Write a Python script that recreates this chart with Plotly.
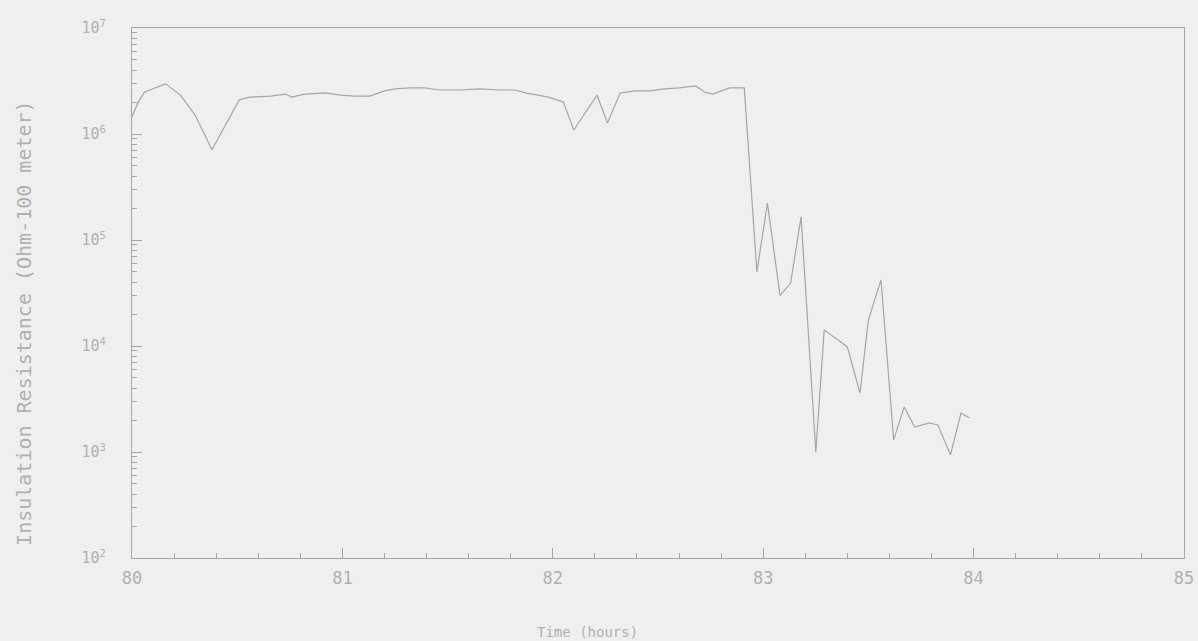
import plotly.graph_objects as go

# Elapsed time (hours) and insulation resistance (Ohm-100 meter)
time_hours = [
    80.00, 80.03, 80.06, 80.10, 80.16, 80.23, 80.30, 80.38, 80.46, 80.51,
    80.56, 80.66, 80.73, 80.76, 80.82, 80.92, 80.99, 81.06, 81.13, 81.20,
    81.25, 81.32, 81.39, 81.46, 81.56, 81.65, 81.75, 81.82, 81.87, 81.92,
    81.98, 82.05, 82.10, 82.21, 82.26, 82.32, 82.39, 82.46, 82.53, 82.60,
    82.68, 82.72, 82.76, 82.84, 82.91, 82.97, 83.02, 83.08, 83.13, 83.18,
    83.25, 83.29, 83.40, 83.46, 83.50, 83.56, 83.62, 83.67, 83.72, 83.79,
    83.83, 83.89, 83.94, 83.98,
]
resistance = [
    1.45e6, 2.0e6, 2.49e6, 2.66e6, 2.97e6, 2.33e6, 1.51e6, 7.1e5, 1.41e6, 2.1e6,
    2.23e6, 2.28e6, 2.38e6, 2.23e6, 2.38e6, 2.44e6, 2.33e6, 2.28e6, 2.28e6, 2.55e6,
    2.66e6, 2.72e6, 2.72e6, 2.6e6, 2.6e6, 2.66e6, 2.6e6, 2.6e6, 2.44e6, 2.33e6,
    2.23e6, 2.0e6, 1.09e6, 2.33e6, 1.27e6, 2.44e6, 2.55e6, 2.55e6, 2.66e6, 2.72e6,
    2.84e6, 2.49e6, 2.38e6, 2.72e6, 2.72e6, 5.0e4, 2.23e5, 3.0e4, 3.9e4, 1.65e5,
    1.0e3, 1.42e4, 9.8e3, 3.6e3, 1.76e4, 4.2e4, 1.3e3, 2.66e3, 1.72e3, 1.88e3,
    1.8e3, 9.4e2, 2.33e3, 2.09e3,
]

x_ticks = [80, 81, 82, 83, 84, 85]
y_ticks = [1e2, 1e3, 1e4, 1e5, 1e6, 1e7]
y_tick_text = ["10<sup>2</sup>", "10<sup>3</sup>", "10<sup>4</sup>",
               "10<sup>5</sup>", "10<sup>6</sup>", "10<sup>7</sup>"]

bg = "#efefef"
ink = "#a6a6a6"
text_col = "#b0b0b0"
mono = "DejaVu Sans Mono, Liberation Mono, monospace"

fig = go.Figure()
fig.add_trace(go.Scatter(
    x=time_hours, y=resistance, mode="lines",
    line=dict(color=ink, width=1.2), showlegend=False,
))

fig.update_layout(
    width=1198, height=641,
    margin=dict(l=132, r=14, t=28, b=83),
    paper_bgcolor=bg, plot_bgcolor=bg,
    font=dict(family=mono, color=text_col, size=14),
    xaxis=dict(
        range=[80, 85], tickvals=x_ticks, ticktext=[str(v) for v in x_ticks],
        ticks="inside", ticklen=10, tickcolor=ink, showgrid=False, zeroline=False,
        showline=True, linecolor=ink, linewidth=1.2, mirror=True,
        minor=dict(ticks="inside", dtick=0.2, ticklen=5, tickcolor=ink),
        tickfont=dict(family=mono, size=17, color=text_col),
        ticklabelstandoff=4, ticklabeloverflow="allow", automargin=False,
    ),
    yaxis=dict(
        type="log", range=[2, 7], tickvals=y_ticks, ticktext=y_tick_text,
        ticks="inside", ticklen=10, tickcolor=ink, showgrid=False, zeroline=False,
        showline=True, linecolor=ink, linewidth=1.2, mirror=True,
        minor=dict(ticks="inside", dtick="D1", ticklen=5, tickcolor=ink),
        tickfont=dict(family=mono, size=15, color=text_col),
        ticklabelstandoff=22, automargin=False,
    ),
    annotations=[
        dict(
            text="Time (hours)", xref="paper", yref="paper", x=0.433, y=-0.14,
            xanchor="center", yanchor="middle", showarrow=False,
            font=dict(family=mono, size=14, color=text_col),
        ),
        dict(
            text="Insulation Resistance (Ohm-100 meter)", xref="paper", yref="paper",
            x=-0.102, y=0.443, xanchor="center", yanchor="middle", textangle=-90,
            showarrow=False, font=dict(family=mono, size=20, color=text_col),
        ),
    ],
)

fig.write_html("out.html")
